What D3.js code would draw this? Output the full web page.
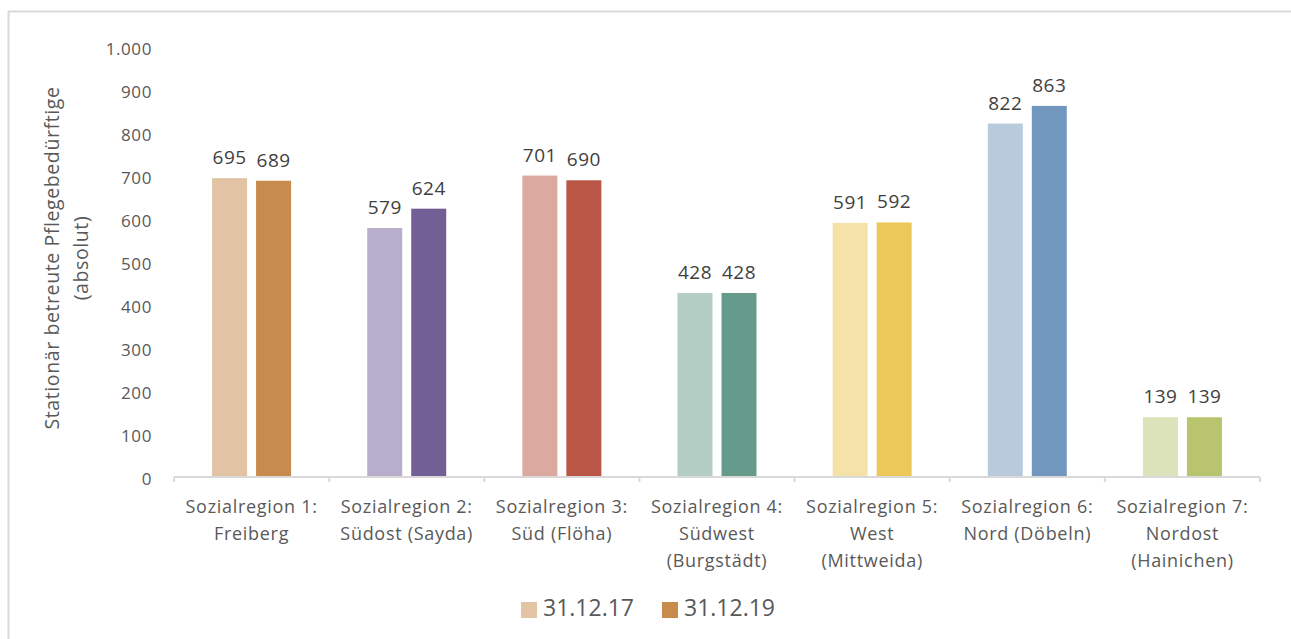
<!DOCTYPE html>
<html>
<head>
<meta charset="utf-8">
<script src="https://cdn.jsdelivr.net/npm/d3@7"></script>
<style>
  html, body { margin: 0; padding: 0; background: #fff; }
  svg { display: block; font-family: "Open Sans", "DejaVu Sans", sans-serif; }
</style>
</head>
<body>
<svg id="chart" width="1291" height="639"></svg>
<script>
// Regions (two-line / three-line category labels)
const regionLabels = [
  ["Sozialregion 1:", "Freiberg"],
  ["Sozialregion 2:", "Südost (Sayda)"],
  ["Sozialregion 3:", "Süd (Flöha)"],
  ["Sozialregion 4:", "Südwest", "(Burgstädt)"],
  ["Sozialregion 5:", "West", "(Mittweida)"],
  ["Sozialregion 6:", "Nord (Döbeln)"],
  ["Sozialregion 7:", "Nordost", "(Hainichen)"]
];
const seriesNames = ["31.12.17", "31.12.19"];
const values2017 = [695, 579, 701, 428, 591, 822, 139];
const values2019 = [689, 624, 690, 428, 592, 863, 139];
// light / dark shade for each region
const lightColors = ["#E2C4A4", "#B7AECB", "#DCA9A1", "#B3CDC5", "#F5E2A8", "#B9CADD", "#DCE2B9"];
const darkColors  = ["#C78B4E", "#725F96", "#B95645", "#669B8C", "#ECC858", "#7297BF", "#B9C56E"];
const yTicks = [0, 100, 200, 300, 400, 500, 600, 700, 800, 900, 1000];
const yTitle = ["Stationär betreute  Pflegebedürftige", "(absolut)"];

const svg = d3.select("#chart");

// outer frame
svg.append("rect")
  .attr("x", 8.5).attr("y", 11.5)
  .attr("width", 1400).attr("height", 700)
  .attr("fill", "none").attr("stroke", "#d9d9d9").attr("stroke-width", 2);

const regionIdx = d3.range(regionLabels.length);
const x0 = d3.scaleBand().domain(regionIdx).range([174, 1260]).paddingInner(0).paddingOuter(0);
const x1 = d3.scaleBand().domain(seriesNames).range([0, 79]).paddingInner(9 / 44);
const y = d3.scaleLinear().domain([0, 1000]).range([477, 47]);

const fmt = d3.formatLocale({ decimal: ",", thousands: ".", grouping: [3], currency: ["", " €"] }).format(",d");

// y axis (labels only)
const yAxis = svg.append("g")
  .attr("transform", "translate(174,0)")
  .call(d3.axisLeft(y).tickValues(yTicks).tickSize(0).tickPadding(22).tickFormat(fmt));
yAxis.select(".domain").remove();
yAxis.selectAll("text")
  .attr("fill", "#595959")
  .attr("font-size", 17)
  .attr("letter-spacing", "0.6px")
  .attr("dy", "0.42em")
  .style("font-family", "'Open Sans', sans-serif");

// y axis title
const yt = svg.append("text")
  .attr("transform", "translate(52,258) rotate(-90)")
  .attr("text-anchor", "middle")
  .attr("fill", "#595959")
  .attr("font-size", 19.5)
  .attr("letter-spacing", "0.6px");
yt.selectAll("tspan").data(yTitle).join("tspan")
  .attr("x", 0)
  .attr("dy", (d, i) => i === 0 ? "0.35em" : "29px")
  .text(d => d);

// bars
const rows = regionIdx.map(i => ({ i, vals: [values2017[i], values2019[i]] }));
const groups = svg.append("g").selectAll("g").data(rows).join("g")
  .attr("transform", d => `translate(${x0(d.i) + x0.bandwidth() / 2 - 39.5},0)`);

groups.selectAll("rect").data(d => d.vals.map((v, k) => ({ v, k, i: d.i }))).join("rect")
  .attr("x", d => x1(seriesNames[d.k]))
  .attr("width", x1.bandwidth())
  .attr("y", d => y(d.v))
  .attr("height", d => y(0) - y(d.v))
  .attr("fill", d => d.k === 0 ? lightColors[d.i] : darkColors[d.i]);

groups.selectAll("text.val").data(d => d.vals.map((v, k) => ({ v, k }))).join("text")
  .attr("class", "val")
  .attr("x", d => x1(seriesNames[d.k]) + x1.bandwidth() / 2)
  .attr("y", d => y(d.v) - 14)
  .attr("text-anchor", "middle")
  .attr("fill", "#404040")
  .attr("font-size", 19)
  .attr("letter-spacing", "0.5px")
  .text(d => fmt(d.v));

// x axis line with boundary ticks
const axisG = svg.append("g").attr("stroke", "#d9d9d9").attr("stroke-width", 2);
axisG.append("line")
  .attr("x1", x0.range()[0]).attr("x2", x0.range()[1])
  .attr("y1", y(0)).attr("y2", y(0));
const bounds = regionIdx.map(i => x0(i)).concat([x0.range()[1]]);
axisG.selectAll("line.tick").data(bounds).join("line")
  .attr("class", "tick")
  .attr("x1", d => d).attr("x2", d => d)
  .attr("y1", y(0)).attr("y2", y(0) + 5);

// category labels
const catText = svg.append("g").selectAll("text").data(rows).join("text")
  .attr("x", d => x0(d.i) + x0.bandwidth() / 2)
  .attr("y", 507)
  .attr("text-anchor", "middle")
  .attr("fill", "#595959")
  .attr("font-size", 18)
  .attr("letter-spacing", "0.7px");
catText.selectAll("tspan").data(d => regionLabels[d.i]).join("tspan")
  .attr("x", function () { return d3.select(this.parentNode).attr("x"); })
  .attr("dy", (d, i) => i === 0 ? "0.35em" : "27px")
  .text(d => d);

// legend
const legend = svg.append("g");
const legendItems = [
  { name: seriesNames[0], color: lightColors[0], x: 521 },
  { name: seriesNames[1], color: darkColors[0], x: 662 }
];
legend.selectAll("rect").data(legendItems).join("rect")
  .attr("x", d => d.x).attr("y", 602)
  .attr("width", 16).attr("height", 16)
  .attr("fill", d => d.color);
legend.selectAll("text").data(legendItems).join("text")
  .attr("x", d => d.x + 22).attr("y", 608)
  .attr("dy", "0.35em")
  .attr("fill", "#595959")
  .attr("font-size", 23)
  .text(d => d.name);
</script>
</body>
</html>
